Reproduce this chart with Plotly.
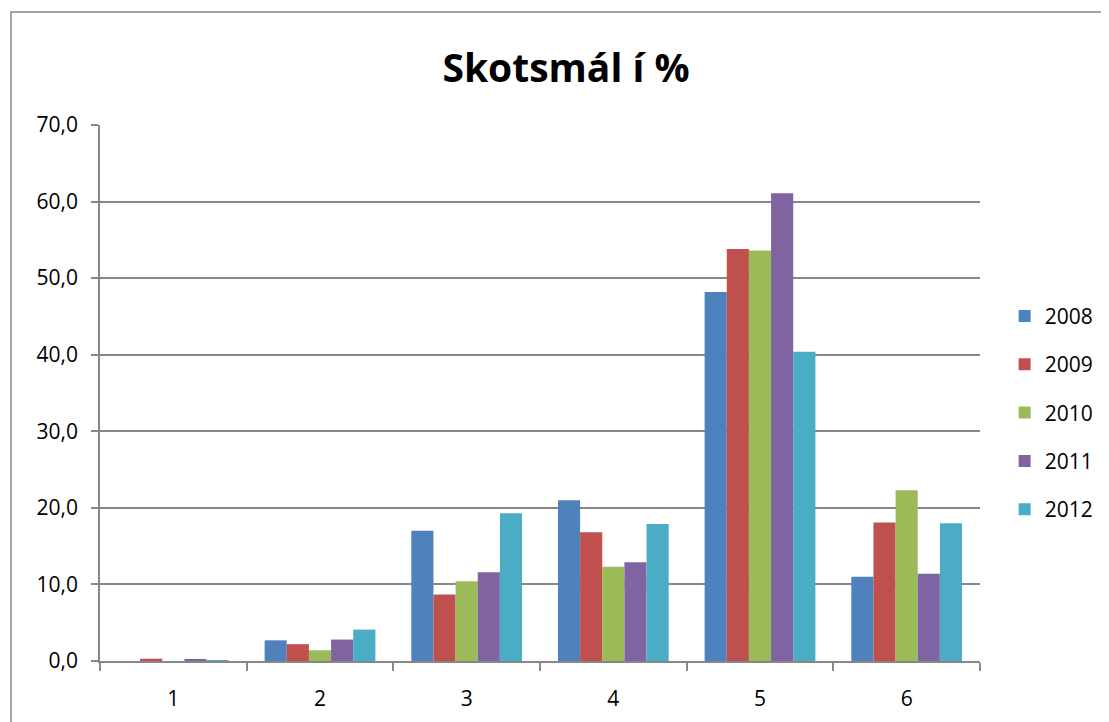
import plotly.graph_objects as go

categories = ["1", "2", "3", "4", "5", "6"]
years = ["2008", "2009", "2010", "2011", "2012"]
values_2008 = [0.0, 2.7, 17.0, 21.0, 48.2, 11.0]
values_2009 = [0.3, 2.2, 8.7, 16.8, 53.8, 18.1]
values_2010 = [0.0, 1.4, 10.4, 12.3, 53.6, 22.3]
values_2011 = [0.25, 2.8, 11.6, 12.9, 61.1, 11.4]
values_2012 = [0.1, 4.1, 19.3, 17.9, 40.4, 18.0]
colors = ["#4F81BD", "#C0504D", "#9BBB59", "#8064A2", "#4BACC6"]

series = [values_2008, values_2009, values_2010, values_2011, values_2012]

fig = go.Figure()
for year, vals, col in zip(years, series, colors):
    fig.add_trace(go.Bar(x=categories, y=vals, name=year, legendgroup=year,
                         marker=dict(color=col, line=dict(width=0))))

font_family = "Open Sans, Noto Sans, sans-serif"

# page body adds an 8px offset, margins compensate for it
fig.update_layout(
    width=1109, height=722,
    margin=dict(l=92, r=137, t=117, b=69),
    paper_bgcolor="white", plot_bgcolor="white",
    separators=", ",
    barmode="group", bargap=0.245, bargroupgap=0,
    font=dict(family=font_family, size=21, color="black"),
    title=dict(text="<b>Skotsmál í %</b>", x=(566 - 8) / 1109, xanchor="center",
               y=1 - 60 / 722, yanchor="middle",
               font=dict(size=39, family=font_family, color="black")),
    legend=dict(x=1.028, xanchor="left", y=0.463, yanchor="middle",
                font=dict(size=21), tracegroupgap=18, itemwidth=30,
                bgcolor="rgba(0,0,0,0)"),
    showlegend=True,
)

fig.update_yaxes(range=[0, 70], dtick=10, tickformat=".1f",
                 showgrid=True, gridcolor="#878787", gridwidth=1.5,
                 showline=True, linecolor="#878787", linewidth=1.5,
                 ticks="outside", ticklen=7, tickcolor="#878787", tickwidth=1.5,
                 ticklabelstandoff=9,
                 zeroline=False, tickfont=dict(size=21))
fig.update_xaxes(showline=True, linecolor="#878787", linewidth=1.5,
                 ticks="outside", tickson="boundaries", ticklen=8,
                 tickcolor="#878787", tickwidth=1.5, ticklabelstandoff=18,
                 showgrid=False, tickfont=dict(size=21))

# outer chart border
fig.add_shape(type="rect", xref="paper", yref="paper",
              x0=(11 - 100) / 880, x1=1.2, y0=-0.2, y1=(661 - 12) / 536,
              line=dict(color="#878787", width=1.5), fillcolor="rgba(0,0,0,0)",
              layer="below")

fig.write_html("out.html")
